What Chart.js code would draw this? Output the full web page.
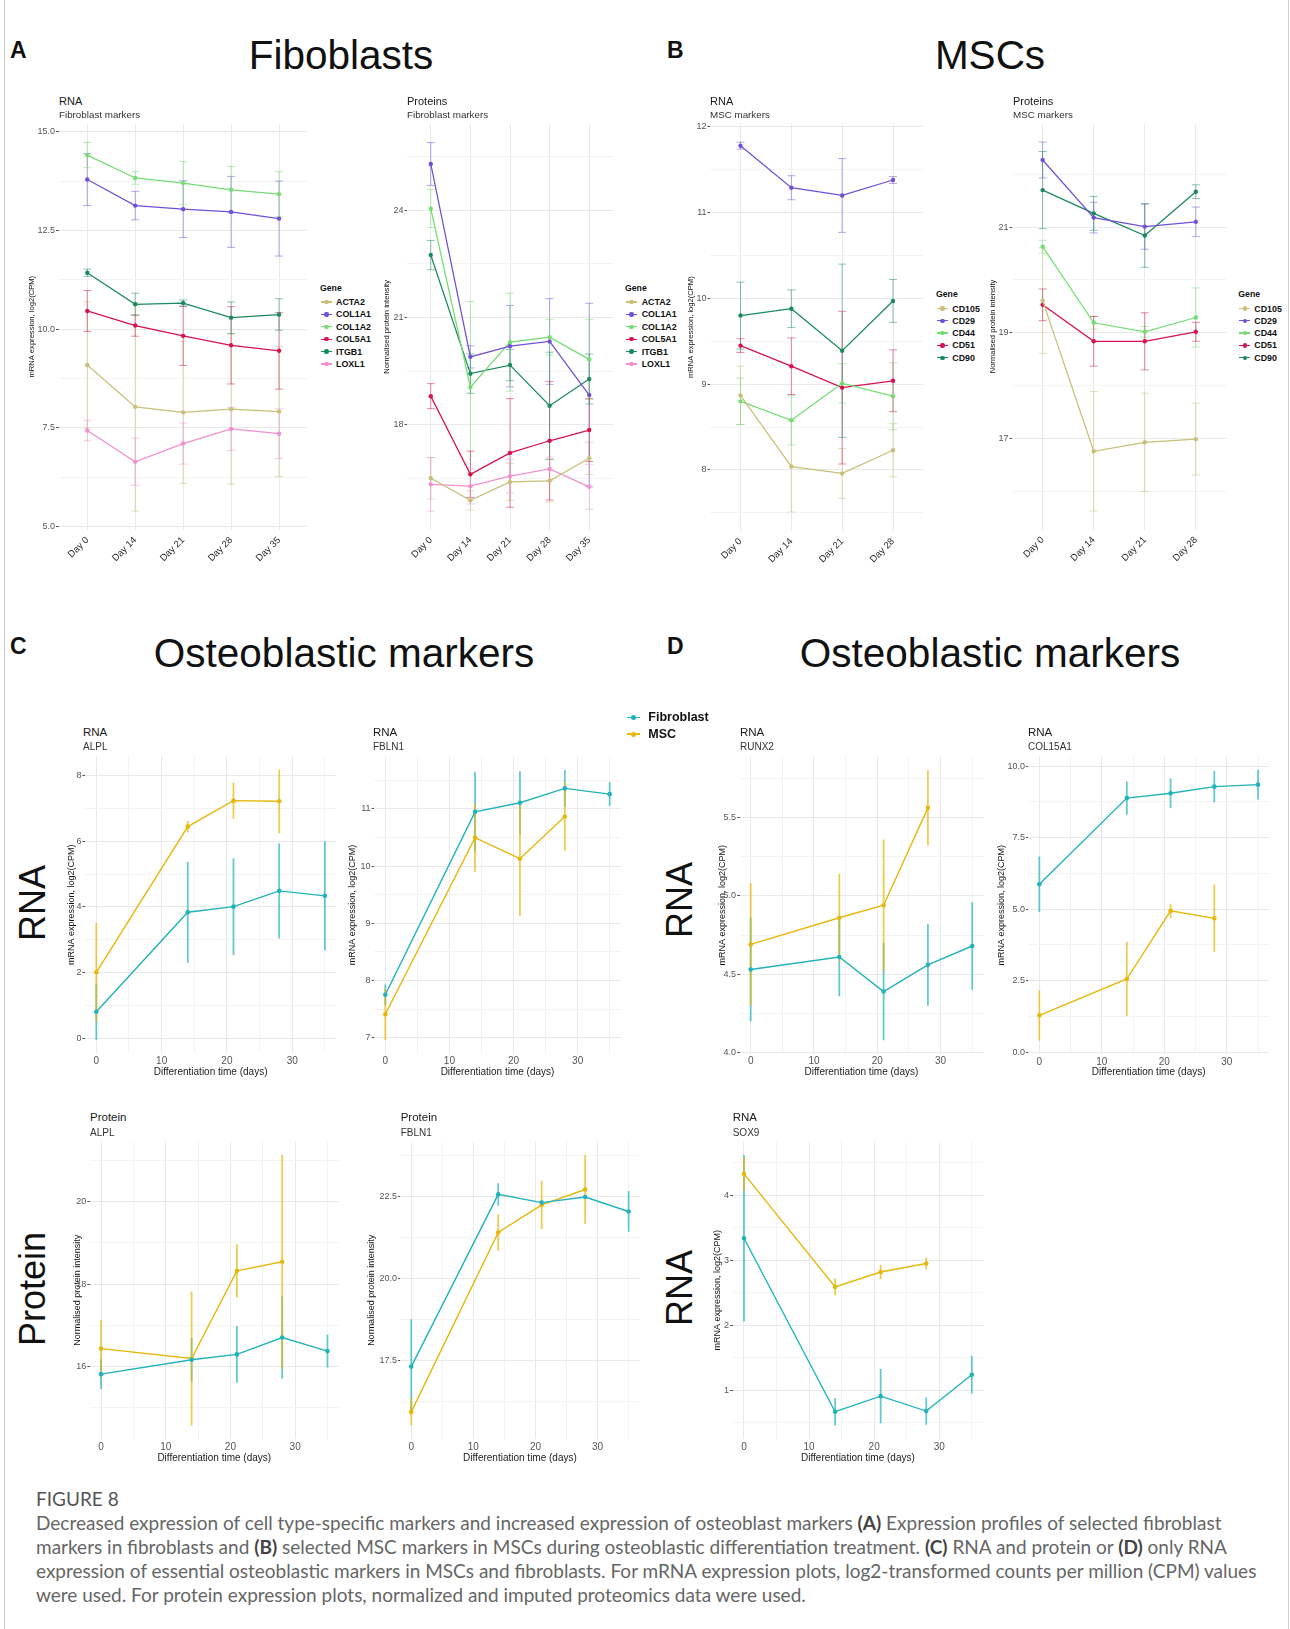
<!DOCTYPE html>
<html>
<head>
<meta charset="utf-8">
<script src="https://cdn.jsdelivr.net/npm/chart.js@4.4.1/dist/chart.umd.min.js"></script>
<style>
  body { margin: 0; background: #fff; }
  #fig { position: relative; width: 1290px; height: 1629px; overflow: hidden; font-family: "Liberation Sans", Arial, sans-serif; color: #111; }
  .t { position: absolute; white-space: nowrap; line-height: 1; }
  canvas { position: absolute; }
  .frame { position: absolute; background: #cfcfcf; }
  #caption { position: absolute; left: 36px; top: 1487px; width: 1248px; font-family: Lato, "Open Sans", sans-serif; color: #666; }
  #caption .no { font-size: 19px; line-height: 24px; color: #555; }
  #caption .txt { font-size: 19px; line-height: 24px; white-space: nowrap; }
  #caption b { color: #444; }
</style>
</head>
<body>
<div id="fig">
  <div class="frame" style="left:4px;top:0;width:1px;height:1629px"></div>
  <div class="frame" style="left:1288px;top:0;width:1px;height:1629px"></div>
  <div id="caption">
    <div class="no">FIGURE 8</div>
    <div class="txt">Decreased expression of cell type-specific markers and increased expression of osteoblast markers <b>(A)</b> Expression profiles of selected fibroblast<br>markers in fibroblasts and <b>(B)</b> selected MSC markers in MSCs during osteoblastic differentiation treatment. <b>(C)</b> RNA and protein or <b>(D)</b> only RNA<br>expression of essential osteoblastic markers in MSCs and fibroblasts. For mRNA expression plots, log2-transformed counts per million (CPM) values<br>were used. For protein expression plots, normalized and imputed proteomics data were used.</div>
  </div>
</div>
<script>
// ---------- data ----------
const dayLabels = ['Day 0', 'Day 14', 'Day 21', 'Day 28', 'Day 35'];
const dayLabelsMsc = ['Day 0', 'Day 14', 'Day 21', 'Day 28'];
const fibGenes = ['ACTA2', 'COL1A1', 'COL1A2', 'COL5A1', 'ITGB1', 'LOXL1'];
const mscGenes = ['CD105', 'CD29', 'CD44', 'CD51', 'CD90'];

// A: fibroblast markers in fibroblasts (rows follow fibGenes)
const fibRna = [
  [9.09, 8.03, 7.89, 7.97, 7.91],
  [13.79, 13.13, 13.04, 12.97, 12.80],
  [14.41, 13.83, 13.70, 13.53, 13.42],
  [10.46, 10.09, 9.83, 9.59, 9.45],
  [11.43, 10.63, 10.66, 10.29, 10.37],
  [7.43, 6.64, 7.10, 7.47, 7.35]
];
const fibRnaSd = [
  [1.6, 2.64, 1.8, 1.9, 1.65],
  [0.66, 0.36, 0.72, 0.9, 0.95],
  [0.32, 0.16, 0.55, 0.59, 0.57],
  [0.52, 0.27, 0.75, 0.98, 0.97],
  [0.09, 0.28, 0.08, 0.4, 0.4],
  [0.26, 0.6, 0.52, 0.55, 0.63]
];
const fibProt = [
  [16.50, 15.88, 16.40, 16.43, 17.06],
  [25.30, 19.90, 20.20, 20.33, 18.83],
  [24.05, 19.05, 20.31, 20.45, 19.83],
  [18.80, 16.61, 17.21, 17.55, 17.85],
  [22.75, 19.43, 19.67, 18.53, 19.28],
  [16.33, 16.28, 16.56, 16.76, 16.26]
];
const fibProtSd = [
  [0.58, 0.27, 0.52, 0.6, 0.45],
  [0.6, 0.31, 1.14, 1.2, 2.57],
  [0.53, 2.4, 1.37, 0.5, 1.12],
  [0.35, 0.65, 1.52, 1.66, 0.88],
  [0.41, 0.55, 0.44, 1.5, 0.7],
  [0.75, 0.5, 0.47, 0.33, 0.63]
];

// B: MSC markers in MSCs (rows follow mscGenes)
const mscRna = [
  [8.87, 8.04, 7.96, 8.23],
  [11.78, 11.29, 11.20, 11.38],
  [8.80, 8.58, 9.01, 8.86],
  [9.45, 9.21, 8.96, 9.04],
  [9.80, 9.88, 9.39, 9.97]
];
const mscRnaSd = [
  [0.34, 0.53, 0.29, 0.31],
  [0.04, 0.14, 0.43, 0.04],
  [0.27, 0.29, 0.23, 0.39],
  [0.08, 0.33, 0.89, 0.36],
  [0.39, 0.22, 1.01, 0.25]
];
const mscProt = [
  [19.61, 16.76, 16.93, 16.99],
  [22.27, 21.18, 21.01, 21.10],
  [20.63, 19.19, 19.02, 19.29],
  [19.53, 18.84, 18.84, 19.02],
  [21.70, 21.26, 20.84, 21.67]
];
const mscProtSd = [
  [1.0, 1.13, 0.93, 0.68],
  [0.34, 0.29, 0.43, 0.28],
  [0.12, 0.12, 0.1, 0.56],
  [0.3, 0.47, 0.54, 0.18],
  [0.73, 0.32, 0.6, 0.13]
];

// C / D: osteoblastic markers, days of differentiation
const timeFib = [0, 14, 21, 28, 35];
const timeMsc = [0, 14, 21, 28];
const alplRnaFib = [0.81, 3.84, 4.01, 4.49, 4.34];
const alplRnaFibSd = [0.86, 1.54, 1.47, 1.45, 1.66];
const alplRnaMsc = [2.01, 6.45, 7.24, 7.22];
const alplRnaMscSd = [1.5, 0.18, 0.55, 0.97];
const fbln1RnaFib = [7.75, 10.95, 11.11, 11.36, 11.26];
const fbln1RnaFibSd = [0.18, 0.7, 0.55, 0.32, 0.21];
const fbln1RnaMsc = [7.41, 10.50, 10.13, 10.87];
const fbln1RnaMscSd = [0.45, 0.6, 1.0, 0.6];
const runx2Fib = [4.53, 4.61, 4.39, 4.56, 4.68];
const runx2FibSd = [0.33, 0.25, 0.31, 0.26, 0.28];
const runx2Msc = [4.69, 4.86, 4.94, 5.56];
const runx2MscSd = [0.39, 0.28, 0.42, 0.24];
const col15a1Fib = [5.87, 8.88, 9.05, 9.28, 9.35];
const col15a1FibSd = [0.97, 0.58, 0.52, 0.55, 0.52];
const col15a1Msc = [1.29, 2.56, 4.94, 4.68];
const col15a1MscSd = [0.88, 1.3, 0.25, 1.18];
const alplProtFib = [15.81, 16.16, 16.29, 16.70, 16.37];
const alplProtFibSd = [0.36, 0.53, 0.69, 1.0, 0.4];
const alplProtMsc = [16.43, 16.19, 18.32, 18.54];
const alplProtMscSd = [0.7, 1.63, 0.65, 2.6];
const fbln1ProtFib = [17.32, 22.57, 22.32, 22.49, 22.05];
const fbln1ProtFibSd = [1.44, 0.34, 0.06, 0.06, 0.62];
const fbln1ProtMsc = [15.94, 21.41, 22.25, 22.72];
const fbln1ProtMscSd = [0.42, 0.56, 0.74, 1.05];
const sox9Fib = [3.34, 0.67, 0.91, 0.68, 1.24];
const sox9FibSd = [1.28, 0.21, 0.42, 0.21, 0.29];
const sox9Msc = [4.33, 2.59, 2.82, 2.95];
const sox9MscSd = [0.26, 0.13, 0.11, 0.09];

// tick labels
const yTicksFibRna = ['5.0', '7.5', '10.0', '12.5', '15.0'];
const yTicksFibProt = ['18', '21', '24'];
const yTicksMscRna = ['8', '9', '10', '11', '12'];
const yTicksMscProt = ['17', '19', '21'];
const yTicksAlplRna = ['0', '2', '4', '6', '8'];
const yTicksFbln1Rna = ['7', '8', '9', '10', '11'];
const yTicksRunx2 = ['4.0', '4.5', '5.0', '5.5'];
const yTicksCol15a1 = ['0.0', '2.5', '5.0', '7.5', '10.0'];
const yTicksAlplProt = ['16', '18', '20'];
const yTicksFbln1Prot = ['17.5', '20.0', '22.5'];
const yTicksSox9 = ['1', '2', '3', '4'];
const xTicksDays = ['0', '10', '20', '30'];

// ---------- styling ----------
const geneColors = ['#c8bf78', '#6f50d6', '#74dc74', '#d6134f', '#1a8a5d', '#f290cf'];
const fibColor = '#22b3ba';
const mscColor = '#e6b70c';
const FONT = '"Liberation Sans", Arial, sans-serif';
Chart.defaults.font.family = FONT;

const fig = document.getElementById('fig');

function rgba(hex, a) {
  const n = parseInt(hex.slice(1), 16);
  return `rgba(${n >> 16},${(n >> 8) & 255},${n & 255},${a})`;
}

function text(str, x, y, css, align) {
  const d = document.createElement('div');
  d.className = 't';
  d.textContent = str;
  d.style.cssText += css;
  d.style.left = x + 'px';
  d.style.top = y + 'px';
  d.style.transform = align === 'center' ? 'translate(-50%,-50%)' : 'translateY(-50%)';
  fig.appendChild(d);
  return d;
}

// error bars drawn under the lines, through the chart's own scales
const errorBars = {
  id: 'errorBars',
  beforeDatasetsDraw(chart, args, opts) {
    const { ctx } = chart;
    const xs = chart.scales.x, ys = chart.scales.y;
    ctx.save();
    chart.data.datasets.forEach(ds => {
      ctx.strokeStyle = rgba(ds.borderColor, opts.alpha);
      ctx.lineWidth = opts.width;
      ds.data.forEach((p, j) => {
        const px = xs.getPixelForValue(p.x);
        const y1 = ys.getPixelForValue(p.y + ds.sd[j]);
        const y2 = ys.getPixelForValue(p.y - ds.sd[j]);
        ctx.beginPath();
        ctx.moveTo(px, y1);
        ctx.lineTo(px, y2);
        if (opts.cap) {
          ctx.moveTo(px - opts.cap, y1); ctx.lineTo(px + opts.cap, y1);
          ctx.moveTo(px - opts.cap, y2); ctx.lineTo(px + opts.cap, y2);
        }
        ctx.stroke();
      });
    });
    ctx.restore();
  }
};

// major ticks from the label strings, minor ticks half way between
function makeTicks(labels, min, max) {
  const vals = labels.map(Number);
  const step = vals[1] - vals[0];
  const out = vals.map((v, i) => ({ value: v, txt: labels[i] }));
  for (let v = vals[0] - step / 2; v <= max; v += step) {
    if (v >= min) out.push({ value: v, minor: true });
  }
  return out.sort((a, b) => a.value - b.value);
}

function makeChart(s) {
  const small = !!s.cat;
  const yFont = small ? 7.6 : 9;
  const left = Math.floor(s.yTitleX - yFont * 0.6);
  const top = Math.floor(s.T - 6);
  const bottom = Math.ceil(small ? s.B + 45 : s.xTitleY + 6);
  const w = Math.ceil(s.R + 8 - left), h = bottom - top;
  const padR = w - (s.R - left);
  const wy = s.L - left;
  const hx = h - (s.B - top);

  const cv = document.createElement('canvas');
  cv.width = w; cv.height = h;
  cv.style.left = left + 'px';
  cv.style.top = top + 'px';
  fig.appendChild(cv);

  const xTicks = small
    ? s.cat.map((c, i) => ({ value: i, txt: c }))
    : makeTicks(xTicksDays, -1.75, 36.75);

  const gridColor = c => (c.tick && c.tick.minor ? '#f3f3f3' : '#e9e9e9');

  new Chart(cv.getContext('2d'), {
    type: 'line',
    data: {
      datasets: s.series.map(se => ({
        label: se.name,
        data: se.x.map((x, j) => ({ x, y: se.y[j] })),
        sd: se.sd,
        borderColor: se.color,
        backgroundColor: se.color,
        pointBackgroundColor: se.color,
        borderWidth: small ? 1.25 : 1.4,
        pointRadius: small ? 2.2 : 2.3,
        pointBorderWidth: 0,
        tension: 0
      }))
    },
    options: {
      responsive: false,
      animation: false,
      layout: { padding: { top: s.T - top, right: padR, left: 0, bottom: 0 } },
      plugins: {
        legend: { display: false },
        tooltip: { enabled: false },
        errorBars: small ? { alpha: 0.5, width: 1, cap: 4 } : { alpha: 0.7, width: 1.8, cap: 0 }
      },
      scales: {
        x: {
          type: 'linear',
          min: small ? -0.6 : -1.75,
          max: small ? s.cat.length - 0.4 : 36.75,
          afterBuildTicks: ax => { ax.ticks = xTicks.map(t => ({ ...t })); },
          afterFit: sc => { sc.height = hx; sc.paddingLeft = 0; sc.paddingRight = 0; },
          grid: {
            color: gridColor,
            lineWidth: 1,
            tickLength: small ? 3 : 1.5,
            tickColor: 'rgba(0,0,0,0)'
          },
          border: { display: false },
          ticks: {
            autoSkip: false,
            minRotation: small ? 45 : 0,
            maxRotation: small ? 45 : 0,
            padding: small ? 2 : 0.5,
            color: small ? '#2b2b2b' : '#555',
            font: { size: small ? 9.5 : 10 },
            callback: (v, i, t) => t[i].txt || ''
          },
          title: small ? { display: false } : {
            display: true, text: 'Differentiation time (days)', padding: 0,
            color: '#222', font: { size: 10 }
          }
        },
        y: {
          min: s.yMin,
          max: s.yMax,
          afterBuildTicks: ax => { ax.ticks = makeTicks(s.yTicks, s.yMin, s.yMax); },
          afterFit: sc => { sc.width = wy; sc.paddingTop = 0; sc.paddingBottom = 0; },
          grid: {
            color: gridColor,
            lineWidth: 1,
            tickLength: 2.5,
            tickColor: c => (c.tick && c.tick.minor ? 'rgba(0,0,0,0)' : '#555')
          },
          border: { display: false },
          ticks: {
            autoSkip: false,
            padding: 1,
            color: '#555',
            font: { size: 9 },
            callback: (v, i, t) => t[i].txt || ''
          },
          title: { display: true, text: s.yTitle, padding: 0, color: '#111', font: { size: yFont } }
        }
      }
    },
    plugins: [errorBars]
  });
}

const rnaTitle = 'mRNA expression, log2(CPM)';
const protTitle = 'Normalised protein intensity';
const idx5 = [0, 1, 2, 3, 4], idx4 = [0, 1, 2, 3];

function geneSeries(genes, means, sds, xs) {
  return genes.map((g, i) => ({ name: g, color: geneColors[i], x: xs, y: means[i], sd: sds[i] }));
}
function cellSeries(fib, fibSd, msc, mscSd) {
  return [
    { name: 'Fibroblast', color: fibColor, x: timeFib, y: fib, sd: fibSd },
    { name: 'MSC', color: mscColor, x: timeMsc, y: msc, sd: mscSd }
  ];
}

const specs = [
  { cat: dayLabels, L: 58.5, R: 307.8, T: 123.9, B: 529.6, yMin: 4.92, yMax: 15.2, yTicks: yTicksFibRna,
    yTitle: rnaTitle, yTitleX: 31.7, series: geneSeries(fibGenes, fibRna, fibRnaSd, idx5) },
  { cat: dayLabels, L: 407, R: 613, T: 124, B: 529.7, yMin: 15.06, yMax: 26.42, yTicks: yTicksFibProt,
    yTitle: protTitle, yTitleX: 387.3, series: geneSeries(fibGenes, fibProt, fibProtSd, idx5) },
  { cat: dayLabelsMsc, L: 710, R: 923.5, T: 123.4, B: 530.9, yMin: 7.29, yMax: 12.04, yTicks: yTicksMscRna,
    yTitle: rnaTitle, yTitleX: 690.7, series: geneSeries(mscGenes, mscRna, mscRnaSd, idx4) },
  { cat: dayLabelsMsc, L: 1012, R: 1226.5, T: 123.5, B: 529.5, yMin: 15.28, yMax: 22.96, yTicks: yTicksMscProt,
    yTitle: protTitle, yTitleX: 993.3, series: geneSeries(mscGenes, mscProt, mscProtSd, idx4) },

  { L: 84.9, R: 336.3, T: 756, B: 1053.4, yMin: -0.46, yMax: 8.6, yTicks: yTicksAlplRna, xTitleY: 1072,
    yTitle: rnaTitle, yTitleX: 71.7, series: cellSeries(alplRnaFib, alplRnaFibSd, alplRnaMsc, alplRnaMscSd) },
  { L: 374.1, R: 620.9, T: 756.4, B: 1053.7, yMin: 6.72, yMax: 11.92, yTicks: yTicksFbln1Rna, xTitleY: 1072,
    yTitle: rnaTitle, yTitleX: 353.3, series: cellSeries(fbln1RnaFib, fbln1RnaFibSd, fbln1RnaMsc, fbln1RnaMscSd) },
  { L: 739.6, R: 983.3, T: 756.7, B: 1053.7, yMin: 3.994, yMax: 5.886, yTicks: yTicksRunx2, xTitleY: 1072,
    yTitle: rnaTitle, yTitleX: 723.3, series: cellSeries(runx2Fib, runx2FibSd, runx2Msc, runx2MscSd) },
  { L: 1028.4, R: 1269, T: 756.2, B: 1054.1, yMin: -0.063, yMax: 10.343, yTicks: yTicksCol15a1, xTitleY: 1072,
    yTitle: rnaTitle, yTitleX: 1001.7, series: cellSeries(col15a1Fib, col15a1FibSd, col15a1Msc, col15a1MscSd) },
  { L: 89.7, R: 338.8, T: 1141.2, B: 1439.2, yMin: 14.23, yMax: 21.47, yTicks: yTicksAlplProt, xTitleY: 1458,
    yTitle: protTitle, yTitleX: 78.3, series: cellSeries(alplProtFib, alplProtFibSd, alplProtMsc, alplProtMscSd) },
  { L: 400.4, R: 639.5, T: 1141.6, B: 1439.1, yMin: 15.11, yMax: 24.18, yTicks: yTicksFbln1Prot, xTitleY: 1458,
    yTitle: protTitle, yTitleX: 372.3, series: cellSeries(fbln1ProtFib, fbln1ProtFibSd, fbln1ProtMsc, fbln1ProtMscSd) },
  { L: 732.6, R: 983.2, T: 1141.5, B: 1438.9, yMin: 0.252, yMax: 4.828, yTicks: yTicksSox9, xTitleY: 1458,
    yTitle: rnaTitle, yTitleX: 718.3, series: cellSeries(sox9Fib, sox9FibSd, sox9Msc, sox9MscSd) }
];
specs.forEach(makeChart);

// ---------- headings and chart titles ----------
const big = 'font-size:40.5px;color:#111;';
text('Fiboblasts', 341, 54.8, big, 'center');
text('MSCs', 990, 54.8, big, 'center');
text('Osteoblastic markers', 344, 653, big, 'center');
text('Osteoblastic markers', 990, 653, big, 'center');
const letter = 'font-size:23px;font-weight:bold;color:#111;';
text('A', 10, 50, letter);
text('B', 667, 50, letter);
text('C', 10, 646, letter);
text('D', 667, 646, letter);

const rowLab = 'font-size:36px;color:#111;';
[['RNA', 33, 903], ['Protein', 33, 1289], ['RNA', 680, 900], ['RNA', 680, 1288]].forEach(([s, x, y]) => {
  const d = text(s, x, y, rowLab, 'center');
  d.style.transform = 'translate(-50%,-50%) rotate(-90deg)';
});

const tA = 'font-size:11px;color:#1a1a1a;', sA = 'font-size:9.8px;color:#333;';
const tC = 'font-size:11.5px;color:#1a1a1a;', sC = 'font-size:10px;color:#333;';
[
  ['RNA', 'Fibroblast markers', 59, 101.4, 114.6, tA, sA],
  ['Proteins', 'Fibroblast markers', 407, 101.4, 114.6, tA, sA],
  ['RNA', 'MSC markers', 710, 101.4, 114.6, tA, sA],
  ['Proteins', 'MSC markers', 1013, 101.4, 114.6, tA, sA],
  ['RNA', 'ALPL', 83, 733, 747, tC, sC],
  ['RNA', 'FBLN1', 373, 733, 747, tC, sC],
  ['RNA', 'RUNX2', 740, 733, 747, tC, sC],
  ['RNA', 'COL15A1', 1028, 733, 747, tC, sC],
  ['Protein', 'ALPL', 90, 1118, 1133, tC, sC],
  ['Protein', 'FBLN1', 400.7, 1118, 1133, tC, sC],
  ['RNA', 'SOX9', 732.7, 1118, 1133, tC, sC]
].forEach(([a, b, x, y1, y2, c1, c2]) => { text(a, x, y1, c1); text(b, x, y2, c2); });

// ---------- legends ----------
function legendKey(x, y, color, len, thick, dot) {
  const l = document.createElement('div');
  l.style.cssText = `position:absolute;left:${x}px;top:${y - thick / 2}px;width:${len}px;height:${thick}px;background:${color};`;
  fig.appendChild(l);
  const d = document.createElement('div');
  d.style.cssText = `position:absolute;left:${x + len / 2 - dot / 2}px;top:${y - dot / 2}px;width:${dot}px;height:${dot}px;border-radius:50%;background:${color};`;
  fig.appendChild(d);
}
function geneLegend(x, y, genes, textX, step) {
  text('Gene', x, y, 'font-size:8.7px;font-weight:bold;color:#111;');
  genes.forEach((g, i) => {
    const yy = y + 14.2 + i * step;
    legendKey(x + 1, yy, geneColors[i], 11, 1.3, 4.2);
    text(g, textX, yy, 'font-size:8.9px;font-weight:bold;color:#111;');
  });
}
geneLegend(320, 287.9, fibGenes, 336, 12.36);
geneLegend(625, 287.9, fibGenes, 641.7, 12.36);
geneLegend(936, 294.3, mscGenes, 952.3, 12.32);
geneLegend(1238.3, 294.3, mscGenes, 1254.3, 12.32);

[['Fibroblast', fibColor, 717.3], ['MSC', mscColor, 734]].forEach(([n, c, y]) => {
  legendKey(627, y, c, 13, 1.6, 5);
  text(n, 648.3, y, 'font-size:12.5px;font-weight:bold;color:#111;');
});
</script>
</body>
</html>
